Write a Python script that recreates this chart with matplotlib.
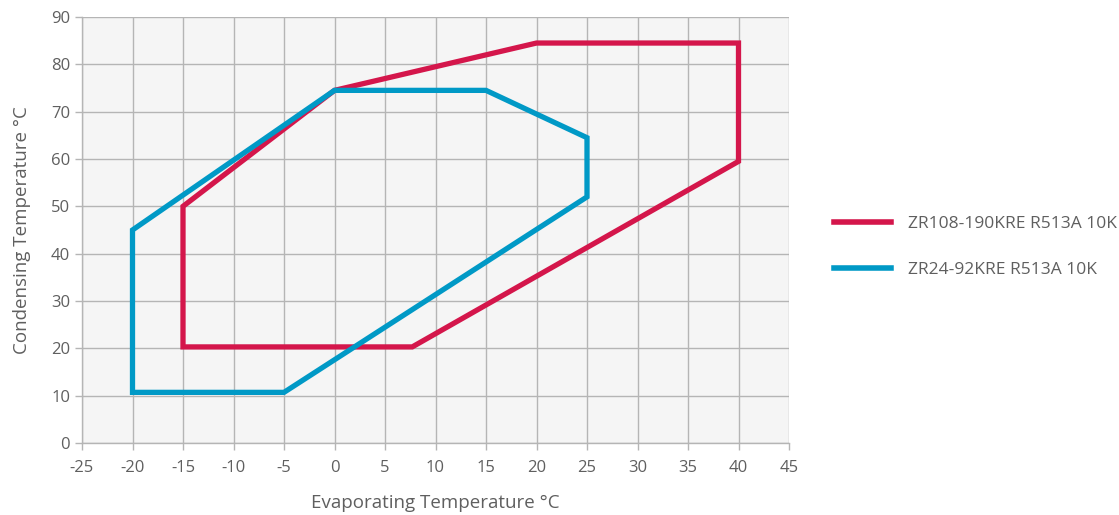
import matplotlib
matplotlib.use("Agg")
import matplotlib.pyplot as plt
from matplotlib.patches import Polygon
from matplotlib.lines import Line2D

plt.rcParams['font.family'] = ['Open Sans', 'DejaVu Sans']
plt.rcParams['axes.unicode_minus'] = False

# Data
red_label = "ZR108-190KRE R513A 10K"
red_x = [-15, -15, 0, 20, 40, 40, 7.7]
red_y = [20.3, 50, 74.5, 84.5, 84.5, 59.5, 20.3]

blue_label = "ZR24-92KRE R513A 10K"
blue_x = [-20, -20, 0, 15, 25, 25, -5]
blue_y = [10.7, 45, 74.5, 74.5, 64.5, 52, 10.7]

x_ticks = list(range(-25, 50, 5))
y_ticks = list(range(0, 100, 10))

red_c = "#d4164b"
blue_c = "#0099c6"
grid_c = "#b5b5b5"
text_c = "#5f5f5f"

fig = plt.figure(figsize=(11.19, 5.15), dpi=100)
ax = fig.add_axes([82/1119, 1-443/515, (789-82)/1119, (443-17)/515])
ax.set_facecolor("#f5f5f5")

for xs, ys, c in [(red_x, red_y, red_c), (blue_x, blue_y, blue_c)]:
    poly = Polygon(list(zip(xs, ys)), closed=True, fill=False, edgecolor=c,
                   lw=3.8, joinstyle='miter')
    ax.add_patch(poly)

ax.set_xlim(-25, 45)
ax.set_ylim(0, 90)
ax.set_xticks(x_ticks)
ax.set_yticks(y_ticks)
ax.grid(True, color=grid_c, lw=1.0)
ax.set_axisbelow(True)
for s in ['top', 'right']:
    ax.spines[s].set_visible(False)
for s in ['left', 'bottom']:
    ax.spines[s].set_color(grid_c)
    ax.spines[s].set_linewidth(1.0)
ax.tick_params(axis='both', colors=grid_c, labelcolor=text_c, labelsize=12, length=5, width=1, direction='out')
ax.tick_params(axis='x', pad=7)

ax.set_xlabel("Evaporating Temperature °C", color=text_c, fontsize=13.5, labelpad=13)
ax.set_ylabel("Condensing Temperature °C", color=text_c, fontsize=13.5, labelpad=14)

handles = [Line2D([], [], color=red_c, lw=4), Line2D([], [], color=blue_c, lw=4)]
leg = fig.legend(handles, [red_label, blue_label], loc='upper left',
                 bbox_to_anchor=(818/1119, 1-200/515), frameon=False,
                 fontsize=12.5, handlelength=3.3, handletextpad=1.0, labelspacing=1.75,
                 labelcolor=text_c)

fig.savefig("out.png", dpi=100)
